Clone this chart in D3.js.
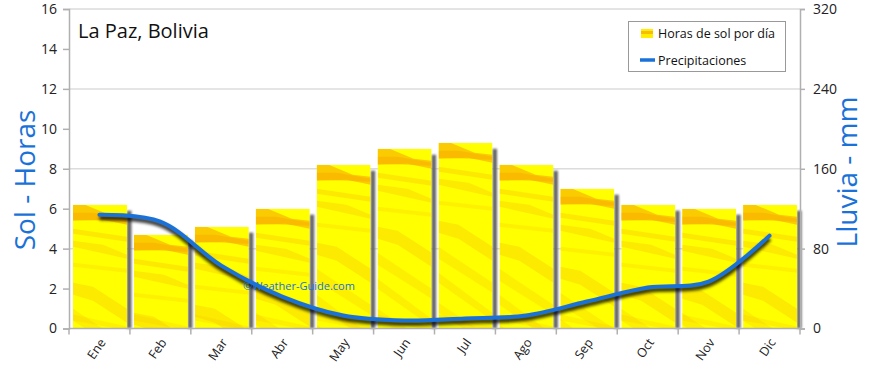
<!DOCTYPE html>
<html><head><meta charset="utf-8">
<script src="https://cdn.jsdelivr.net/npm/d3@7/dist/d3.min.js"></script>
<style>body{margin:0;background:#fff}svg{display:block}</style>
</head><body><svg id="c" width="870" height="368"></svg>
<script>
const months = ["Ene","Feb","Mar","Abr","May","Jun","Jul","Ago","Sep","Oct","Nov","Dic"];
const sunHours = [6.2,4.7,5.1,6.0,8.2,9.0,9.3,8.2,7.0,6.2,6.0,6.2];
const rainMm = [114,107,63,32,13,8,10,13,27,41,47,93];
const leftTicks = [0,2,4,6,8,10,12,14,16];
const rightTicks = [0,80,160,240,320];

const svg = d3.select("#c");
const m = {l:69, r:800, t:9, b:328.5};
const font = "'Open Sans', sans-serif";
const x = d3.scaleBand().domain(months).range([m.l, m.r]).paddingInner(0).paddingOuter(0);
const yL = d3.scaleLinear().domain([0,16]).range([m.b, m.t]);
const yR = d3.scaleLinear().domain([0,320]).range([m.b, m.t]);

const defs = svg.append("defs");
const blur = defs.append("filter").attr("id","blur").attr("x","-20%").attr("y","-50%").attr("width","140%").attr("height","200%");
blur.append("feGaussianBlur").attr("stdDeviation",1.6);
const blur2 = defs.append("filter").attr("id","blur2").attr("x","-50%").attr("y","-10%").attr("width","200%").attr("height","120%");
blur2.append("feGaussianBlur").attr("stdDeviation",0.8);

svg.append("g").selectAll("line").data([4,8,12]).join("line")
  .attr("x1",m.l).attr("x2",m.r).attr("y1",d=>yL(d)).attr("y2",d=>yL(d))
  .attr("stroke","#dcdcdc").attr("stroke-width",1.5);
svg.append("line").attr("x1",m.l).attr("x2",m.r).attr("y1",yL(16)).attr("y2",yL(16))
  .attr("stroke","#c8c8c8").attr("stroke-width",1);

const bw = 54;
const bars = svg.append("g");
sunHours.forEach((v,i)=>{
  const bx = x(months[i]) + 4;
  const top = yL(v);
  const h = yL(0) - top;
  bars.append("rect").attr("x",bx+bw).attr("y",top+6).attr("width",4.5).attr("height",h-6)
    .attr("fill","#666").attr("filter","url(#blur2)");
  const cid = "clip"+i;
  defs.append("clipPath").attr("id",cid).append("rect").attr("x",bx).attr("y",top).attr("width",bw).attr("height",h);
  const g = bars.append("g").attr("clip-path",`url(#${cid})`);
  g.append("rect").attr("x",bx).attr("y",top).attr("width",bw).attr("height",h).attr("fill","#ffff00");
  const P = (pts)=> pts.map(p=>[bx+p[0], top+p[1]].join(",")).join(" ");
  g.append("polygon").attr("points",P([[0,0],[12,0],[36,10],[54,12],[54,20],[30,15],[0,16]])).attr("fill","#f7a800").attr("opacity",0.6);
  g.append("polygon").attr("points",P([[0,8],[20,8],[54,14],[54,17],[0,15]])).attr("fill","#f59a00").attr("opacity",0.35);
  g.append("polygon").attr("points",P([[0,24],[54,32],[54,37],[0,29]])).attr("fill","#f8c000").attr("opacity",0.35);
  g.append("polygon").attr("points",P([[0,36],[30,40],[54,50],[54,54],[0,42]])).attr("fill","#f5b000").attr("opacity",0.25);
  g.append("polygon").attr("points",P([[0,58],[54,64],[54,68],[0,62]])).attr("fill","#f8c800").attr("opacity",0.25);
  g.append("polygon").attr("points",P([[0,78],[20,82],[54,104],[54,118],[20,96],[0,90]])).attr("fill","#f5b800").attr("opacity",0.3);
  g.append("polygon").attr("points",P([[0,104],[54,140],[54,150],[0,116]])).attr("fill","#f6c000").attr("opacity",0.25);
  g.append("polygon").attr("points",P([[0,130],[54,170],[54,178],[0,140]])).attr("fill","#f5b800").attr("opacity",0.22);
  g.append("polygon").attr("points",P([[0,160],[54,196],[54,204],[0,170]])).attr("fill","#f6c000").attr("opacity",0.22);
  g.append("polygon").attr("points",P([[0,h-14],[54,h-2],[54,h+2],[0,h-8]])).attr("fill","#f6c800").attr("opacity",0.25);
});

const axL = svg.append("g").attr("transform",`translate(${m.l},0)`).call(d3.axisLeft(yL).tickValues(leftTicks).tickSize(6).tickPadding(6));
const axR = svg.append("g").attr("transform",`translate(${m.r},0)`).call(d3.axisRight(yR).tickValues(rightTicks).tickSize(5).tickPadding(8));
const axB = svg.append("g").attr("transform",`translate(0,${m.b})`).call(d3.axisBottom(x).tickSize(0).tickFormat(""));
[axL,axR,axB].forEach(a=>{
  a.select(".domain").attr("stroke","#b0b0b0").attr("stroke-width",1.5);
  a.selectAll(".tick line").attr("stroke","#b0b0b0").attr("stroke-width",1.5);
  a.selectAll("text").attr("font-family",font).attr("font-size",14).attr("fill","#222");
});
axB.select(".domain").attr("d",`M${m.l},0H${m.r}`);
svg.append("g").selectAll("line").data(d3.range(13)).join("line")
  .attr("x1",i=>m.l + i*x.step()).attr("x2",i=>m.l + i*x.step())
  .attr("y1",m.b).attr("y2",m.b+6).attr("stroke","#b0b0b0").attr("stroke-width",1.5);
svg.append("g").selectAll("text").data(months).join("text")
  .attr("transform",d=>`translate(${x(d)+x.bandwidth()/2+4},${m.b+12}) rotate(-55)`)
  .attr("text-anchor","end").attr("dominant-baseline","middle")
  .attr("font-family",font).attr("font-size",12.5).attr("fill","#222").text(d=>d);

const line = d3.line().x((d,i)=>x(months[i])+x.bandwidth()/2).y(d=>yR(d)).curve(d3.curveCatmullRom.alpha(0.5));
svg.append("path").datum(rainMm).attr("d",line).attr("fill","none")
  .attr("stroke","#000").attr("stroke-opacity",0.75).attr("stroke-width",5)
  .attr("transform","translate(0,3)").attr("filter","url(#blur)");
svg.append("path").datum(rainMm).attr("d",line).attr("fill","none")
  .attr("stroke","#1a72d8").attr("stroke-width",4).attr("stroke-linecap","round");

svg.append("text").attr("x",243).attr("y",290).attr("font-family",font).attr("font-size",11)
  .attr("fill","#1a72d8").text("©Weather-Guide.com");

svg.append("text").attr("x",78).attr("y",38).attr("font-family",font).attr("font-size",20).attr("fill","#111").text("La Paz, Bolivia");

svg.append("text").attr("transform","translate(35,180) rotate(-90)").attr("text-anchor","middle")
  .attr("font-family",font).attr("font-size",28).attr("fill","#1a72d8").text("Sol - Horas");
svg.append("text").attr("transform","translate(857,172) rotate(-90)").attr("text-anchor","middle")
  .attr("font-family",font).attr("font-size",28).attr("fill","#1a72d8").text("Lluvia - mm");

const lg = svg.append("g");
lg.append("rect").attr("x",628.5).attr("y",21.5).attr("width",157).attr("height",50).attr("fill","#fff").attr("stroke","#999");
lg.append("rect").attr("x",641).attr("y",29).attr("width",12).attr("height",9).attr("fill","#ffee00");
lg.append("rect").attr("x",641).attr("y",31).attr("width",12).attr("height",3).attr("fill","#f7b000").attr("opacity",0.8);
lg.append("text").attr("x",658).attr("y",38).attr("font-family",font).attr("font-size",12.5).attr("fill","#111").text("Horas de sol por día");
lg.append("line").attr("x1",640).attr("x2",655).attr("y1",60).attr("y2",60).attr("stroke","#1a72d8").attr("stroke-width",3.5);
lg.append("text").attr("x",658).attr("y",65).attr("font-family",font).attr("font-size",12.5).attr("fill","#111").text("Precipitaciones");
</script></body></html>
